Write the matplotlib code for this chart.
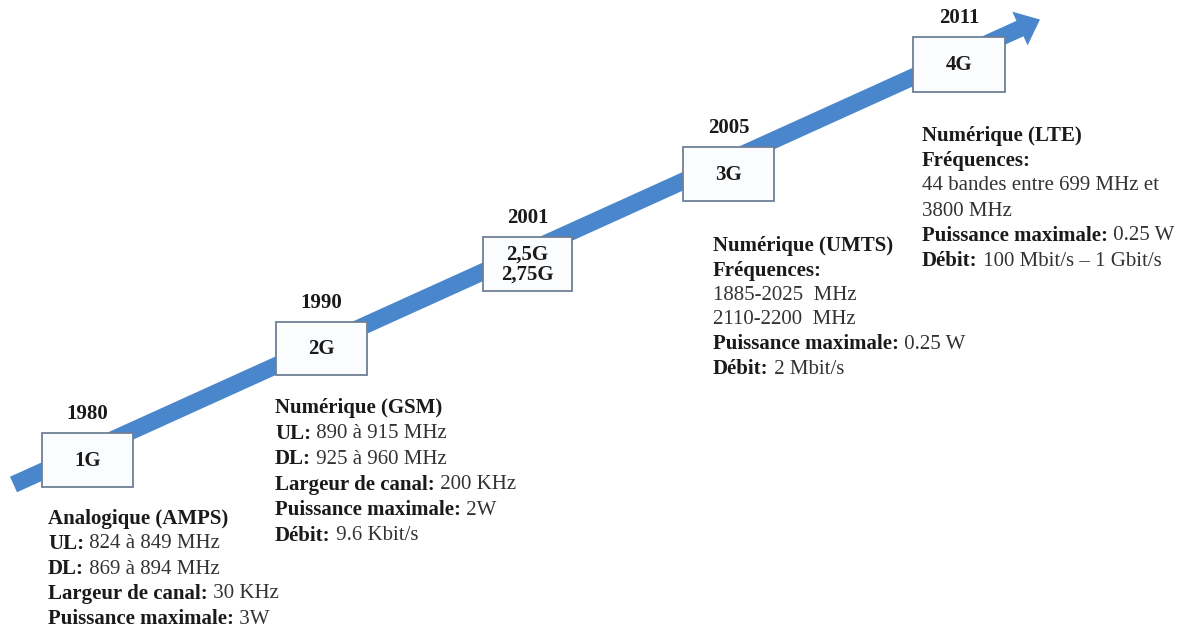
import matplotlib
matplotlib.use('Agg')
import matplotlib.pyplot as plt
from matplotlib.patches import FancyArrow, Rectangle

# ---- content -------------------------------------------------------------
generations = ['1G', '2G', '2,5G\n2,75G', '3G', '4G']
years = ['1980', '1990', '2001', '2005', '2011']

desc_1g = [('Analogique (AMPS)', ''),
           ('UL:', '824 à 849 MHz'),
           ('DL:', '869 à 894 MHz'),
           ('Largeur de canal:', '30 KHz'),
           ('Puissance maximale:', '3W')]
desc_2g = [('Numérique (GSM)', ''),
           ('UL:', '890 à 915 MHz'),
           ('DL:', '925 à 960 MHz'),
           ('Largeur de canal:', '200 KHz'),
           ('Puissance maximale:', '2W'),
           ('Débit:', '9.6 Kbit/s')]
desc_3g = [('Numérique (UMTS)', ''),
           ('Fréquences:', ''),
           ('', '1885-2025  MHz'),
           ('', '2110-2200  MHz'),
           ('Puissance maximale:', '0.25 W'),
           ('Débit:', '2 Mbit/s')]
desc_4g = [('Numérique (LTE)', ''),
           ('Fréquences:', ''),
           ('', '44 bandes entre 699 MHz et'),
           ('', '3800 MHz'),
           ('Puissance maximale:', '0.25 W'),
           ('Débit:', '100 Mbit/s – 1 Gbit/s')]

# ---- layout (pixel space, y downward) -----------------------------------
box_left = [42, 276, 483, 683, 913]
box_top = [433, 322, 237, 147, 37]
box_w = [91, 91, 89, 91, 92]
box_h = [54, 53, 54, 54, 55]
block_pos = [(48, 519, 25.0), (275, 408, 25.6), (713, 246, 24.6), (922, 136, 25.0)]
blocks = [desc_1g, desc_2g, desc_3g, desc_4g]
arrow_tail = (13.5, 484.5)
arrow_tip = (1040, 19.5)

FONT = 'Liberation Serif'
FS = 15.0
ARROW_COLOR = '#4A86CC'
BOX_EDGE = '#6F7F96'
TEXT_COLOR = '#1a1a1a'
REG_COLOR = '#333333'

fig = plt.figure(figsize=(12, 6.35), dpi=100)
ax = fig.add_axes([0, 0, 1, 1])
ax.set_xlim(0, 1200)
ax.set_ylim(635, 0)
ax.axis('off')

# arrow
dx = arrow_tip[0] - arrow_tail[0]
dy = arrow_tip[1] - arrow_tail[1]
ax.add_patch(FancyArrow(arrow_tail[0], arrow_tail[1], dx, dy, width=17,
                        head_width=37, head_length=22, length_includes_head=True,
                        color=ARROW_COLOR, linewidth=0, zorder=1))

# boxes + years
for i, (g, yr) in enumerate(zip(generations, years)):
    x0, y0, w, h = box_left[i], box_top[i], box_w[i], box_h[i]
    ax.add_patch(Rectangle((x0, y0), w, h, facecolor='#FBFCFE', edgecolor=BOX_EDGE,
                           linewidth=1.3, zorder=2))
    ax.text(x0 + w / 2, y0 + h / 2 + 1, g, ha='center', va='center', fontsize=FS,
            fontweight='bold', family=FONT, color=TEXT_COLOR, zorder=3,
            linespacing=1.0)
    ax.text(x0 + w / 2, y0 - 19, yr, ha='center', va='center', fontsize=FS,
            fontweight='bold', family=FONT, color=TEXT_COLOR, zorder=3)

# description blocks
for blk, (bx, by, sp) in zip(blocks, block_pos):
    for k, (bold, reg) in enumerate(blk):
        y = by + k * sp
        if bold:
            t = ax.text(bx, y, bold, ha='left', va='center', fontsize=FS,
                        fontweight='bold', family=FONT, color=TEXT_COLOR)
            if reg:
                ax.annotate(' ' + reg, xy=(1, 0.5), xycoords=t, ha='left',
                            va='center', fontsize=FS, family=FONT,
                            color=REG_COLOR)
        else:
            ax.text(bx, y, reg, ha='left', va='center', fontsize=FS,
                    family=FONT, color=REG_COLOR)

fig.savefig('out.png', dpi=100, facecolor='white')
